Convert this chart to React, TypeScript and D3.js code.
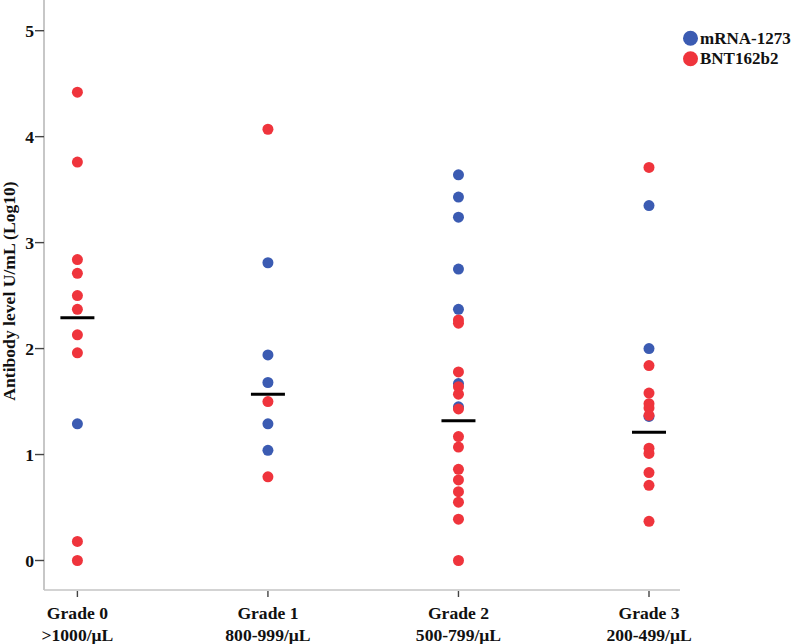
import React from "react";
import * as d3 from "d3";

const grades = ["Grade 0", "Grade 1", "Grade 2", "Grade 3"];
const gradeRanges = [">1000/μL", "800-999/μL", "500-799/μL", "200-499/μL"];
const yTicks = [0, 1, 2, 3, 4, 5];

const mrnaValues: number[][] = [
  [1.29],
  [2.81, 1.94, 1.68, 1.29, 1.04],
  [3.64, 3.43, 3.24, 2.75, 2.37, 1.67, 1.45],
  [3.35, 2.0, 1.36],
];
const bntValues: number[][] = [
  [4.42, 3.76, 2.84, 2.71, 2.5, 2.37, 2.13, 1.96, 0.18, 0.0],
  [4.07, 1.5, 0.79],
  [2.27, 2.24, 1.78, 1.64, 1.57, 1.43, 1.17, 1.07, 0.86, 0.76, 0.65, 0.55, 0.39, 0.0],
  [3.71, 1.84, 1.58, 1.48, 1.44, 1.37, 1.06, 1.01, 0.83, 0.71, 0.37],
];
const means = [2.29, 1.57, 1.32, 1.21];

const seriesNames = ["mRNA-1273", "BNT162b2"];
const seriesColors = ["#3b5bb2", "#ef343c"];

export default function App() {
  const W = 796;
  const H = 644;
  const axisX = 44;
  const axisY = 590;
  const x = d3.scalePoint<string>().domain(grades).range([77.4, 649]).padding(0);
  const y = d3.scaleLinear().domain([0, 5]).range([560.5, 30.7]);
  const font = "'Liberation Serif', 'Times New Roman', serif";
  const r = 5.5;
  const fs = 17.6;

  const series = [mrnaValues, bntValues];

  return (
    <svg
      width={W}
      height={H}
      style={{ position: "absolute", left: 0, top: 0, background: "#fff" }}
      fontFamily={font}
    >
      <rect x={0} y={0} width={W} height={H} fill="#fff" />
      {/* axes */}
      <line x1={axisX} x2={axisX} y1={0} y2={axisY} stroke="#b9b9b9" strokeWidth={1.6} />
      <line x1={axisX} x2={680} y1={axisY} y2={axisY} stroke="#c4c4c4" strokeWidth={1.6} />
      {yTicks.map((t) => (
        <g key={"yt" + t}>
          <line x1={35} x2={axisX} y1={y(t)} y2={y(t)} stroke="#444" strokeWidth={1.4} />
          <text
            x={34}
            y={y(t) + 6}
            textAnchor="end"
            fontSize={fs}
            fontWeight="bold"
            fill="#111"
          >
            {t}
          </text>
        </g>
      ))}
      {grades.map((g, i) => (
        <g key={g}>
          <line
            x1={x(g)!}
            x2={x(g)!}
            y1={591}
            y2={597}
            stroke="#444"
            strokeWidth={1.4}
          />
          <text x={x(g)!} y={619} textAnchor="middle" fontSize={fs} fontWeight="bold" fill="#111">
            {g}
          </text>
          <text x={x(g)!} y={641} textAnchor="middle" fontSize={fs} fontWeight="bold" fill="#111">
            {gradeRanges[i]}
          </text>
        </g>
      ))}
      <text
        transform={`translate(15, 291) rotate(-90)`}
        textAnchor="middle"
        fontSize={fs}
        fontWeight="bold"
        fill="#111"
      >
        Antibody level U/mL (Log10)
      </text>

      {/* points */}
      {series.map((s, si) =>
        s.map((vals, gi) =>
          vals.map((v, k) => (
            <circle
              key={`p${si}-${gi}-${k}`}
              cx={x(grades[gi])!}
              cy={y(v)}
              r={r}
              fill={seriesColors[si]}
            />
          ))
        )
      )}

      {/* means */}
      {means.map((m, i) => (
        <line
          key={"m" + i}
          x1={x(grades[i])! - 17}
          x2={x(grades[i])! + 17}
          y1={y(m)}
          y2={y(m)}
          stroke="#000"
          strokeWidth={3}
        />
      ))}

      {/* legend */}
      {seriesNames.map((n, i) => (
        <g key={n}>
          <circle cx={690.5} cy={38.3 + i * 20.5} r={7.5} fill={seriesColors[i]} />
          <text x={700} y={43.8 + i * 20.5} fontSize={17} fontWeight="bold" fill="#111">
            {n}
          </text>
        </g>
      ))}
    </svg>
  );
}
